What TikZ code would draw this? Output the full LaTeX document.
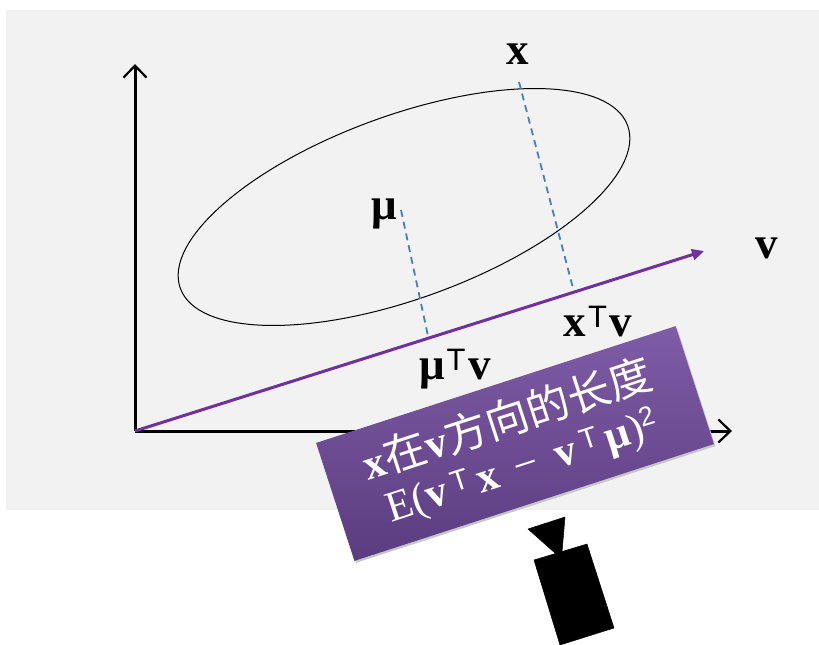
\documentclass[tikz,border=0pt]{standalone}
\usepackage{fontspec}
\setmainfont{Liberation Serif}
\newfontfamily\cjkf{Noto Sans CJK SC}
\newfontfamily\tsans{Liberation Sans}
\usetikzlibrary{arrows.meta,shadows}
\definecolor{bggrey}{HTML}{F2F2F2}
\definecolor{vlin}{HTML}{7030A0}
\definecolor{dashb}{HTML}{4A7EBB}
\definecolor{boxtop}{HTML}{7F5CA6}
\definecolor{boxbot}{HTML}{5B3C80}
\newcommand{\tp}[1]{\raisebox{#1}{\tsans\mdseries\fontsize{31}{31}\selectfont\hspace{2pt}T\hspace{3pt}}}
\newcommand{\tpw}[1]{\raisebox{#1}{\tsans\mdseries\fontsize{29}{29}\selectfont T}}
\tikzset{
  axis/.style={line width=3pt,-{Straight Barb[length=12pt,width=23pt,line width=2.2pt]}},
  vdir/.style={vlin,line width=3pt,-{Triangle[length=12pt,width=11pt]}},
  proj/.style={dashb,line width=1.8pt,dash pattern=on 7pt off 5pt},
  lab/.style={font=\bfseries\fontsize{45}{45}\selectfont,inner sep=0pt},
  boxn/.style={minimum width=378pt,minimum height=124pt,inner sep=0pt,rotate=18,top color=boxtop,bottom color=boxbot,
    draw=none,text=white,align=center,font=\fontsize{43}{47}\selectfont,
    general shadow={shadow xshift=1.5pt,shadow yshift=-2pt,fill=black!22}},
  cam/.style={fill=black,draw=black,line width=0.5pt,line join=round}
}
\begin{document}
\begin{tikzpicture}[x=1pt,y=-1pt]
\useasboundingbox (0,0) rectangle (819,645);
\fill[bggrey] (6,10) rectangle (819,510);
\draw[black,line width=1pt] (404,207) ellipse[x radius=238,y radius=91.6,rotate=20];
\coordinate (o) at (135,431);
\coordinate (yend) at (135,64);
\coordinate (xend) at (732,431);
\coordinate (vend) at (704,251);
\coordinate (mu) at (401,210);
\coordinate (mup) at (428,336);
\coordinate (xp) at (519,82);
\coordinate (xq) at (574,292);
\draw[axis] (o) -- (yend);
\draw[axis] (o) -- (xend);
\draw[proj] (mu) -- (mup);
\draw[proj] (xp) -- (xq);
\draw[vdir] (o) -- (vend);
\node[lab] (xlab) at (518,54) {x};
\node[lab] (mulab) at (384,214) {μ};
\node[lab] (vlab) at (767,248) {v};
\node[lab] (xtv) at (598,322) {x\tp{9pt}v};
\node[lab] (mutv) at (455,369) {μ\tp{9pt}v};
\node[boxn] (box) at (515,443.5) {\textbf{x}{\cjkf 在}\textbf{v}{\cjkf 方向的长度}\\E(\textbf{v}\,\tpw{9pt}\,\textbf{x}\, − \,\textbf{v}\,\tpw{9pt}\,\textbf{μ})\raisebox{13pt}{\tsans\fontsize{27}{27}\selectfont 2}};
\filldraw[cam] (534,560) -- (587,544) -- (614,628) -- (560,645) -- cycle;
\filldraw[cam] (528,529) -- (565,517) -- (562,552) -- (555,553) -- cycle;
\end{tikzpicture}
\end{document}
